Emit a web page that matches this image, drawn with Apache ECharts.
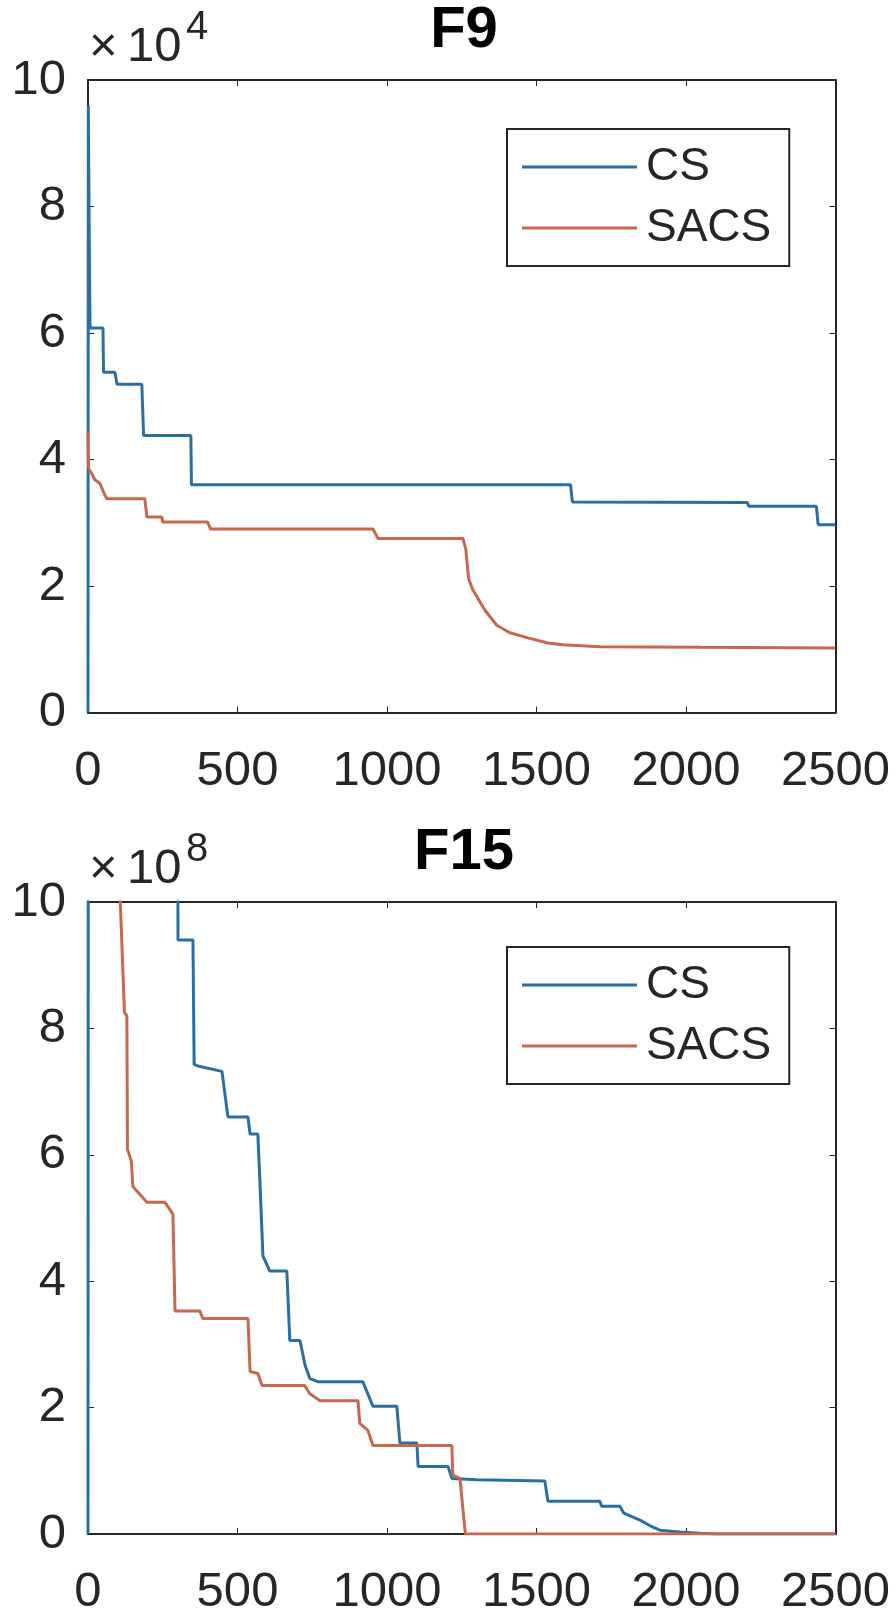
<!DOCTYPE html>
<html><head><meta charset="utf-8">
<script src="https://cdn.jsdelivr.net/npm/echarts@6/dist/echarts.min.js"></script>
<style>html,body{margin:0;padding:0;background:#fff}#c{width:896px;height:1617px}</style>
</head><body><div id="c"></div>
<script>
// ---- data (values in axis units: F9 ×10^4, F15 ×10^8) ----
const xTicks = [0, 500, 1000, 1500, 2000, 2500];
const yTicks = [0, 2, 4, 6, 8, 10];
const seriesNames = ['CS', 'SACS'];
const panelTitles = ['F9', 'F15'];
const panelExponents = ['4', '8'];

const f9CsIter = [0, 1, 3, 5, 7, 50, 52, 90, 97, 180, 186, 344, 346, 1614, 1620, 2205, 2210, 2436, 2442, 2500];
const f9CsVal  = [0, 9.6, 8.3, 7.0, 6.08, 6.08, 5.38, 5.38, 5.19, 5.19, 4.38, 4.38, 3.6, 3.6, 3.33, 3.32, 3.26, 3.26, 2.97, 2.97];

const f9SacsIter = [0, 2, 10, 23, 40, 55, 63, 190, 197, 247, 250, 400, 410, 953, 970, 1254, 1264, 1270, 1274, 1287, 1327, 1367, 1411, 1471, 1538, 1588, 1712, 2046, 2500];
const f9SacsVal  = [4.45, 3.85, 3.8, 3.68, 3.62, 3.45, 3.38, 3.38, 3.09, 3.09, 3.01, 3.01, 2.9, 2.9, 2.75, 2.75, 2.57, 2.25, 2.1, 1.94, 1.62, 1.38, 1.26, 1.18, 1.1, 1.07, 1.04, 1.03, 1.02];

const f15CsIter = [0, 1, 300, 301, 351, 355, 371, 448, 468, 535, 542, 568, 575, 585, 608, 665, 675, 709, 726, 742, 769, 919, 953, 1033, 1043, 1100, 1104, 1204, 1217, 1301, 1528, 1538, 1712, 1718, 1779, 1792, 1846, 1880, 1913, 1979, 2046, 2100, 2500];
const f15CsVal  = [0, 14, 12, 9.4, 9.4, 7.43, 7.4, 7.32, 6.6, 6.6, 6.33, 6.33, 5.58, 4.4, 4.16, 4.16, 3.06, 3.06, 2.67, 2.46, 2.41, 2.41, 2.02, 2.02, 1.44, 1.44, 1.07, 1.07, 0.88, 0.86, 0.84, 0.52, 0.52, 0.44, 0.44, 0.33, 0.22, 0.13, 0.06, 0.03, 0.01, 0, 0];

const f15SacsIter = [0, 100, 108, 122, 130, 132, 145, 150, 197, 257, 284, 291, 374, 384, 535, 542, 568, 582, 725, 742, 776, 903, 909, 936, 953, 1217, 1220, 1244, 1262, 2500];
const f15SacsVal  = [20, 12, 10, 8.25, 8.2, 6.09, 5.9, 5.5, 5.25, 5.25, 5.06, 3.53, 3.53, 3.41, 3.41, 2.57, 2.54, 2.35, 2.35, 2.22, 2.11, 2.11, 1.75, 1.64, 1.4, 1.4, 0.93, 0.88, 0, 0];

// ---- chart ----
const FONT = '"Liberation Sans", Arial, Helvetica, sans-serif';
const AX = '#262626';
const COLORS = ['#2a6fa3', '#c8674a'];
const zip = (a, b) => a.map((v, i) => [v, b[i]]);

const grids = [
  { left: 88, top: 80, width: 747.5, height: 632.5 },
  { left: 88, top: 902, width: 747.5, height: 634 }
];

function xAx(gi, pos, labels) {
  return {
    type: 'value', gridIndex: gi, position: pos,
    min: xTicks[0], max: xTicks[xTicks.length - 1], interval: xTicks[1] - xTicks[0],
    axisLine: { show: true, onZero: false, lineStyle: { color: AX, width: 2 } },
    axisTick: { show: true, inside: true, length: 6, lineStyle: { color: AX, width: 1 } },
    axisLabel: { show: labels, margin: 34, color: AX, fontSize: 49, fontFamily: FONT, formatter: v => String(v) },
    splitLine: { show: false }
  };
}
function yAx(gi, pos, labels) {
  return {
    type: 'value', gridIndex: gi, position: pos,
    min: yTicks[0], max: yTicks[yTicks.length - 1], interval: yTicks[1] - yTicks[0],
    axisLine: { show: true, onZero: false, lineStyle: { color: AX, width: 2 } },
    axisTick: { show: true, inside: true, length: 6, lineStyle: { color: AX, width: 1 } },
    axisLabel: { show: labels, margin: 22, color: AX, fontSize: 49, fontFamily: FONT, formatter: v => String(v) },
    splitLine: { show: false }
  };
}

function line(name, gi, data, color) {
  return {
    name, type: 'line', xAxisIndex: gi * 2, yAxisIndex: gi * 2,
    data, symbol: 'none', showSymbol: false, clip: true,
    lineStyle: { color, width: 3 }, itemStyle: { color },
    emphasis: { disabled: true }
  };
}

function legend(top) {
  return {
    data: seriesNames.map(n => ({ name: n, icon: 'rect' })),
    orient: 'vertical', left: 507, top,
    padding: [15, 18, 15, 15], itemGap: 15, itemWidth: 115, itemHeight: 3,
    backgroundColor: '#fff', borderColor: AX, borderWidth: 2, borderRadius: 0,
    textStyle: { fontSize: 46, fontFamily: FONT, color: AX, padding: [0, 0, 0, 4] },
    selectedMode: false
  };
}

function titleTexts(dy, ti) {
  return [
    { type: 'text', x: 464, y: 31 + dy, style: { text: panelTitles[ti], font: 'bold 58px ' + FONT, fill: '#000', align: 'center', verticalAlign: 'middle' } },
    { type: 'text', x: 89, y: 47.5 + dy, style: { text: '×', font: '49px ' + FONT, fill: AX, align: 'left', verticalAlign: 'middle' } },
    { type: 'text', x: 127, y: 47.5 + dy, style: { text: '10', font: '49px ' + FONT, fill: AX, align: 'left', verticalAlign: 'middle' } },
    { type: 'text', x: 186, y: 27.5 + dy, style: { text: panelExponents[ti], font: '40px ' + FONT, fill: AX, align: 'left', verticalAlign: 'middle' } }
  ];
}

const option = {
  animation: false,
  backgroundColor: '#fff',
  grid: grids,
  xAxis: [xAx(0, 'bottom', true), xAx(0, 'top', false), xAx(1, 'bottom', true), xAx(1, 'top', false)],
  yAxis: [yAx(0, 'left', true), yAx(0, 'right', false), yAx(1, 'left', true), yAx(1, 'right', false)],
  legend: [legend(129), legend(947)],
  series: [
    line(seriesNames[0], 0, zip(f9CsIter, f9CsVal), COLORS[0]),
    line(seriesNames[1], 0, zip(f9SacsIter, f9SacsVal), COLORS[1]),
    line(seriesNames[0], 1, zip(f15CsIter, f15CsVal), COLORS[0]),
    line(seriesNames[1], 1, zip(f15SacsIter, f15SacsVal), COLORS[1]),
    { type: 'line', xAxisIndex: 1, yAxisIndex: 1, data: [], silent: true },
    { type: 'line', xAxisIndex: 3, yAxisIndex: 3, data: [], silent: true }
  ],
  graphic: [...titleTexts(0, 0), ...titleTexts(822, 1)]
};

const chart = echarts.init(document.getElementById('c'), null, { renderer: 'canvas' });
chart.setOption(option);
</script></body></html>
